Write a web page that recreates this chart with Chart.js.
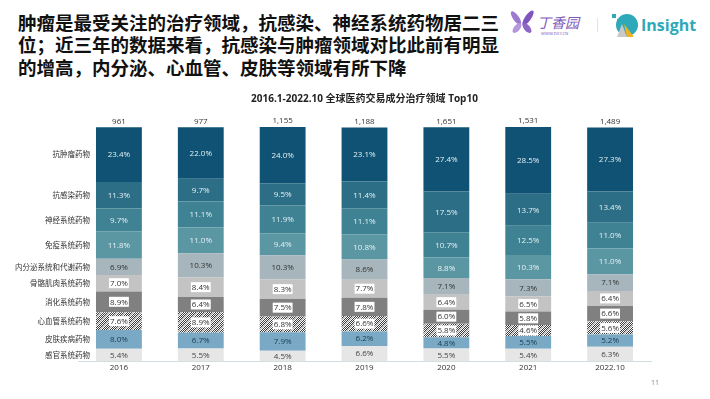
<!DOCTYPE html>
<html>
<head>
<meta charset="utf-8">
<script src="https://cdn.jsdelivr.net/npm/chart.js@4.4.0/dist/chart.umd.min.js"></script>
<style>
  body { margin: 0; width: 710px; height: 399px; background: #fff; position: relative; overflow: hidden; }
  .head { position: absolute; left: 18px; top: 10.5px; font-family: "Noto Sans CJK SC"; font-weight: bold;
          font-size: 18.5px; line-height: 22.5px; color: #111; white-space: nowrap; }
  #chart { position: absolute; left: 0; top: 85px; }
  .page { position: absolute; left: 651px; top: 378px; font-family: "Open Sans"; font-size: 7px; color: #3fa2ae; }
  svg { position: absolute; left: 0; top: 0; }
</style>
</head>
<body>
<div class="head">肿瘤是最受关注的治疗领域，抗感染、神经系统药物居二三<br>位；近三年的数据来看，抗感染与肿瘤领域对比此前有明显<br>的增高，内分泌、心血管、皮肤等领域有所下降</div>

<svg width="710" height="50">
  <g transform="translate(522,23)">
    <ellipse cx="-6" cy="-5" rx="3" ry="8" fill="#9d7ad0" transform="rotate(-35 -6 -5)"/>
    <ellipse cx="6" cy="-5" rx="3" ry="9" fill="#7d55bd" transform="rotate(35 6 -5)"/>
    <ellipse cx="-5" cy="5" rx="3" ry="6" fill="#b497dd" transform="rotate(40 -5 5)"/>
    <ellipse cx="5" cy="5" rx="3" ry="6" fill="#8e66c6" transform="rotate(-40 5 5)"/>
  </g>
  <text x="537" y="28" font-family="Noto Sans CJK SC" font-size="14" fill="#7e5bbb" font-style="italic">丁香园</text>
  <text x="541" y="35" font-family="DejaVu Sans" font-size="4" fill="#8a6cc0">WWW.DXY.CN</text>
  <line x1="597.5" y1="18" x2="597.5" y2="32" stroke="#e2e2e2" stroke-width="1"/>
  <circle cx="627" cy="25" r="11" fill="#2ea9ba"/>
  <rect x="612" y="14" width="4" height="4" fill="#2ea9ba"/>
  <rect x="617" y="19" width="4" height="4" fill="#2ea9ba"/>
  <polygon points="622,24 617,37 627,37" fill="#c9c9c9"/>
  <polygon points="624,24 627,37 634,37" fill="#f2b31d"/>
  <text x="641" y="31" font-family="Open Sans" font-weight="bold" font-size="16" fill="#2ea9ba">Insight</text>
</svg>

<canvas id="chart" width="710" height="290"></canvas>
<div class="page">11</div>

<script>
const years = ['2016', '2017', '2018', '2019', '2020', '2021', '2022.10'];
const totals = [961, 977, 1155, 1188, 1651, 1531, 1489];

// 治疗领域（自下而上）
const areaNames = ['感官系统药物', '皮肤疾病药物', '心血管系统药物', '消化系统药物', '骨骼肌肉系统药物',
  '内分泌系统和代谢药物', '免疫系统药物', '神经系统药物', '抗感染药物', '抗肿瘤药物'];

const sensory    = [5.4, 5.5, 4.5, 6.6, 5.5, 5.4, 6.3];
const derma      = [8.0, 6.7, 7.9, 6.2, 4.8, 5.5, 5.2];
const cardio     = [7.6, 8.9, 6.8, 6.6, 5.8, 4.6, 5.6];
const digestive  = [8.9, 6.4, 7.5, 7.8, 6.0, 5.8, 6.6];
const musculo    = [7.0, 8.4, 8.3, 7.7, 6.4, 6.5, 6.4];
const endocrine  = [6.9, 10.3, 10.3, 8.6, 7.1, 7.3, 7.1];
const immune     = [11.8, 11.0, 9.4, 10.8, 8.8, 10.3, 11.0];
const neuro      = [9.7, 11.1, 11.9, 11.1, 10.7, 12.5, 11.0];
const antiInfect = [11.3, 9.7, 9.5, 11.4, 17.5, 13.7, 13.4];
const antiTumor  = [23.4, 22.0, 24.0, 23.1, 27.4, 28.5, 27.3];

const seriesValues = [sensory, derma, cardio, digestive, musculo, endocrine, immune, neuro, antiInfect, antiTumor];

const ctx = document.getElementById('chart').getContext('2d');

function makePattern() {
  const c = document.createElement('canvas');
  c.width = 8; c.height = 8;
  const g = c.getContext('2d');
  g.fillStyle = '#fff';
  g.fillRect(0, 0, 8, 8);
  g.fillStyle = '#3c3c3c';
  for (let y = 0; y < 8; y++) {
    for (let x = 0; x < 8; x++) {
      if ((x + y) % 2 === 0) g.fillRect(x, y, 1, 1);
    }
  }
  g.fillStyle = 'rgba(200,200,200,0.75)';
  for (let i = 0; i < 8; i++) {
    g.fillRect(i, 7 - i, 1, 1);
    g.fillRect((i + 1) % 8, 7 - i, 1, 1);
  }
  return ctx.createPattern(c, 'repeat');
}

const colors = ['#e6e6e6', '#79a9c4', makePattern(), '#808080', '#c3c3c3',
  '#a6b6bc', '#5b97a3', '#3e8294', '#2b6e86', '#0f5273'];
const textColors = ['#444', '#1d3b4f', '#333', '#333', '#333', '#333', '#e4f0f3', '#e4f0f3', '#e4f0f3', '#e4f0f3'];
const boxed = [false, false, true, true, true, false, false, false, false, false];

const FONT = '"Open Sans", "Noto Sans CJK SC", sans-serif';

const labelPlugin = {
  id: 'segLabels',
  afterDatasetsDraw(chart) {
    const c = chart.ctx;
    c.save();
    c.font = '8px ' + FONT;
    c.textBaseline = 'middle';
    chart.data.datasets.forEach((ds, i) => {
      const meta = chart.getDatasetMeta(i);
      meta.data.forEach((el, j) => {
        const cy = (el.y + el.base) / 2;
        const txt = ds.data[j].toFixed(1) + '%';
        c.textAlign = 'center';
        if (boxed[i]) {
          const w = c.measureText(txt).width + 2;
          c.fillStyle = '#fff';
          c.fillRect(el.x - w / 2, cy - 5, w, 10);
        }
        c.fillStyle = textColors[i];
        c.fillText(txt, el.x, cy + 0.5);
      });
      // 左侧类别名称
      const first = meta.data[0];
      c.textAlign = 'right';
      c.fillStyle = '#333';
      c.font = '7.5px "Noto Sans CJK SC", sans-serif';
      c.fillText(areaNames[i], first.x - first.width / 2 - 6, (first.y + first.base) / 2);
      c.font = '8px ' + FONT;
    });
    // 顶部总数
    const topMeta = chart.getDatasetMeta(chart.data.datasets.length - 1);
    c.textAlign = 'center';
    c.fillStyle = '#333';
    topMeta.data.forEach((el, j) => {
      c.fillText(totals[j].toLocaleString('en-US'), el.x, el.y - 6);
    });
    c.restore();
  }
};

new Chart(ctx, {
  type: 'bar',
  data: {
    labels: years,
    datasets: seriesValues.map((vals, i) => ({
      label: areaNames[i],
      data: vals,
      backgroundColor: colors[i],
      borderWidth: 0,
      categoryPercentage: 0.8,
      barPercentage: 0.7
    }))
  },
  options: {
    responsive: false,
    animation: false,
    layout: { padding: { left: 78, right: 59, top: 0, bottom: 0 } },
    plugins: {
      legend: { display: false },
      tooltip: { enabled: false },
      title: {
        display: true,
        text: '2016.1-2022.10 全球医药交易成分治疗领域 Top10',
        font: { family: FONT, size: 10, weight: 'bold' },
        color: '#222',
        padding: { top: 8, bottom: 22 }
      }
    },
    scales: {
      x: {
        stacked: true,
        grid: { display: false, drawTicks: false },
        border: { display: true, color: '#d3dde1', width: 1 },
        ticks: { color: '#333', font: { family: FONT, size: 8 }, padding: 2 }
      },
      y: {
        stacked: true,
        display: false,
        min: 0,
        max: 100.1
      }
    }
  },
  plugins: [labelPlugin]
});
</script>
</body>
</html>
